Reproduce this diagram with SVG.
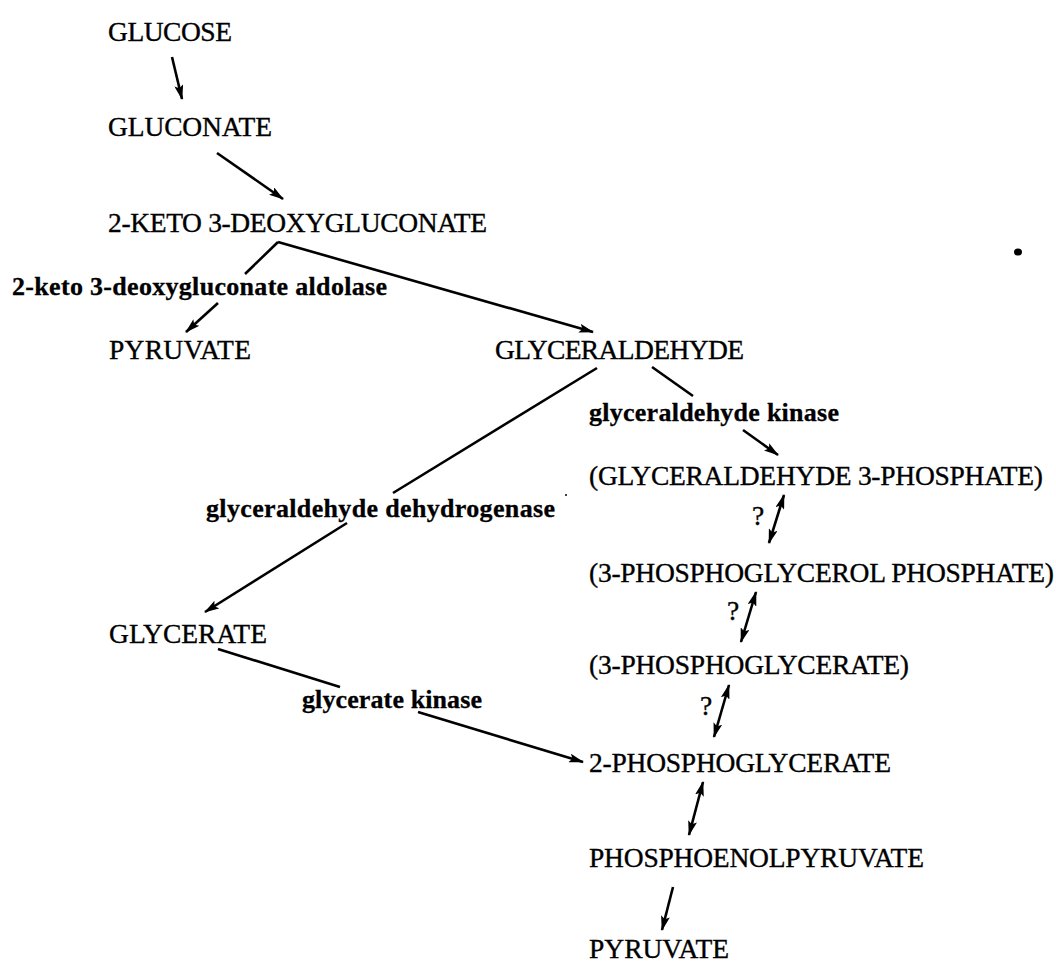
<svg xmlns="http://www.w3.org/2000/svg" width="1056" height="965" viewBox="0 0 1056 965">
<defs>
<style>
.n{font-family:"Liberation Serif","Times New Roman",serif;font-size:27.5px;fill:#000;stroke:#000;stroke-width:0.35}
.e{font-family:"Liberation Serif","Times New Roman",serif;font-size:26px;font-weight:bold;fill:#000;stroke:#000;stroke-width:0.3}
.c line{stroke:#000;stroke-width:2.6;fill:none}
.a{marker-end:url(#ah)}
.d{marker-start:url(#ah);marker-end:url(#ah)}
</style>
<marker id="ah" viewBox="0 0 15 9" markerUnits="userSpaceOnUse" markerWidth="15" markerHeight="9" refX="14" refY="4.5" orient="auto-start-reverse">
<path d="M0,0 L15,4.5 L0,9 L3,4.5 z" fill="#000"/>
</marker>
</defs>
<rect width="1056" height="965" fill="#fff"/>
<g id="glucose"><text class="n" x="108" y="41" textLength="124" lengthAdjust="spacing">GLUCOSE</text></g>
<g id="gluconate"><text class="n" x="108" y="136" textLength="164" lengthAdjust="spacing">GLUCONATE</text></g>
<g id="kdg"><text class="n" x="108" y="232" textLength="379" lengthAdjust="spacing">2-KETO 3-DEOXYGLUCONATE</text></g>
<g id="aldolase"><text class="e" x="12" y="295" textLength="375" lengthAdjust="spacing">2-keto 3-deoxygluconate aldolase</text></g>
<g id="pyruvate1"><text class="n" x="109" y="359" textLength="142" lengthAdjust="spacing">PYRUVATE</text></g>
<g id="glyceraldehyde"><text class="n" x="495" y="359" textLength="249" lengthAdjust="spacing">GLYCERALDEHYDE</text></g>
<g id="gk"><text class="e" x="589" y="421" textLength="250" lengthAdjust="spacing">glyceraldehyde kinase</text></g>
<g id="g3p"><text class="n" x="589" y="485" textLength="454" lengthAdjust="spacing">(GLYCERALDEHYDE 3-PHOSPHATE)</text></g>
<g id="gdh"><text class="e" x="206" y="517" textLength="349" lengthAdjust="spacing">glyceraldehyde dehydrogenase</text></g>
<g id="pgp"><text class="n" x="589" y="582" textLength="465" lengthAdjust="spacing">(3-PHOSPHOGLYCEROL PHOSPHATE)</text></g>
<g id="glycerate"><text class="n" x="109" y="643" textLength="158" lengthAdjust="spacing">GLYCERATE</text></g>
<g id="pg3"><text class="n" x="589" y="674" textLength="320" lengthAdjust="spacing">(3-PHOSPHOGLYCERATE)</text></g>
<g id="glyk"><text class="e" x="302" y="708" textLength="180" lengthAdjust="spacing">glycerate kinase</text></g>
<g id="pg2"><text class="n" x="589" y="772" textLength="302" lengthAdjust="spacing">2-PHOSPHOGLYCERATE</text></g>
<g id="pep"><text class="n" x="589" y="867" textLength="335" lengthAdjust="spacing">PHOSPHOENOLPYRUVATE</text></g>
<g id="pyruvate2"><text class="n" x="589" y="958" textLength="140" lengthAdjust="spacing">PYRUVATE</text></g>
<g id="q1"><text class="n" x="752" y="525">?</text></g>
<g id="q2"><text class="n" x="727" y="620">?</text></g>
<g id="q3"><text class="n" x="700" y="715">?</text></g>
<g id="connectors" class="c">
<line class="a" x1="172" y1="57" x2="182" y2="99"/>
<line class="a" x1="217" y1="153" x2="283" y2="199"/>
<line x1="278" y1="242" x2="245" y2="274"/>
<line class="a" x1="278" y1="242" x2="593" y2="332"/>
<line class="a" x1="218" y1="303" x2="186" y2="332"/>
<line x1="597" y1="368" x2="393" y2="493"/>
<line class="a" x1="347" y1="523" x2="205" y2="612"/>
<line x1="652" y1="367" x2="693" y2="396"/>
<line class="a" x1="743" y1="430" x2="778" y2="455"/>
<line class="d" x1="784" y1="495" x2="769" y2="543"/>
<line class="d" x1="756" y1="592" x2="741" y2="642"/>
<line class="d" x1="729" y1="685" x2="714" y2="737"/>
<line x1="218" y1="649" x2="340" y2="687"/>
<line class="a" x1="418" y1="712" x2="583" y2="762"/>
<line class="d" x1="703" y1="782" x2="689" y2="835"/>
<line class="a" x1="673" y1="887" x2="662" y2="930"/>
</g>
<ellipse cx="1018" cy="252" rx="4" ry="3.5" fill="#000"/>
<circle cx="566" cy="495" r="1" fill="#000"/>
</svg>
